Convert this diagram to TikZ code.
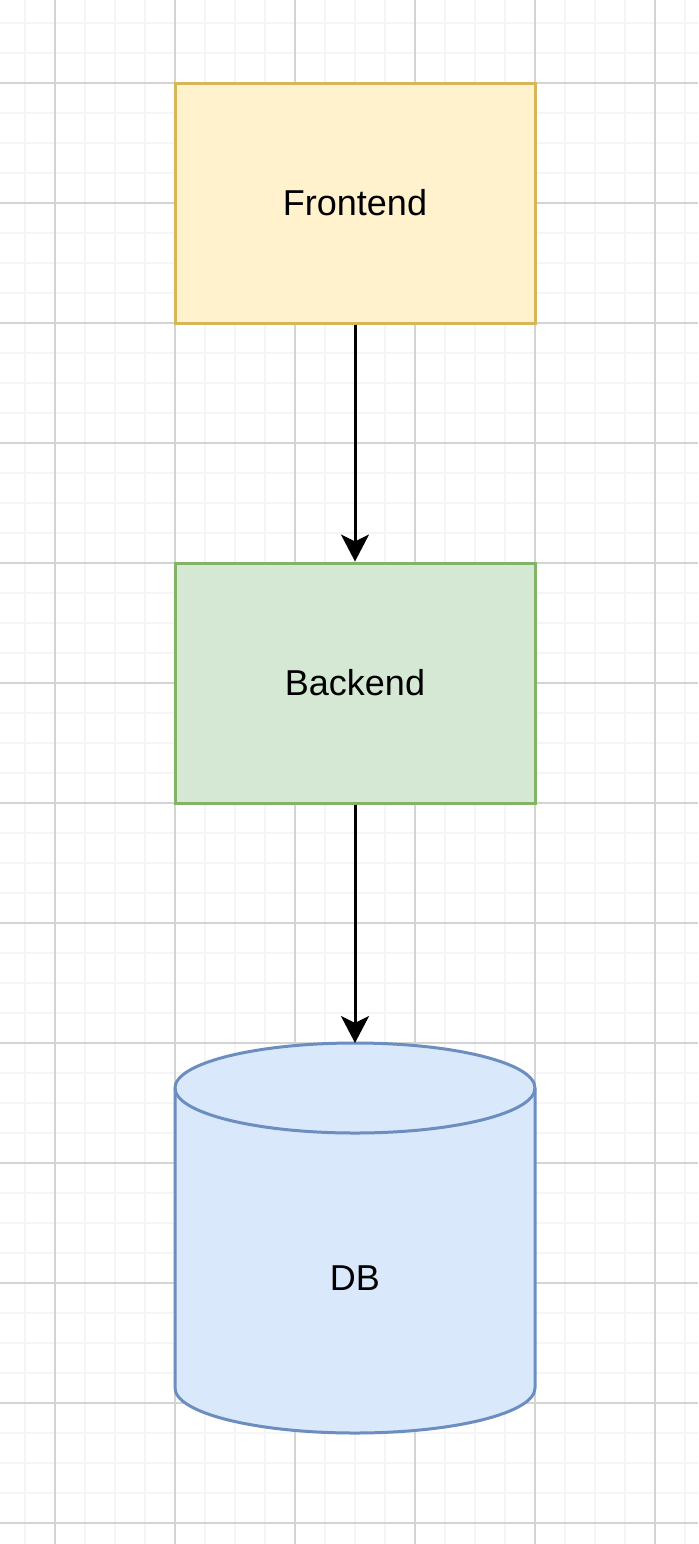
\documentclass[tikz,border=0pt]{standalone}
\usepackage{fontspec}
\setmainfont{Liberation Sans}
\usepackage{tikz}
\usetikzlibrary{arrows.meta,positioning,calc}
\definecolor{frontfill}{HTML}{FFF2CC}
\definecolor{frontline}{HTML}{D6B656}
\definecolor{backfill}{HTML}{D5E8D4}
\definecolor{backline}{HTML}{82B366}
\definecolor{dbfill}{HTML}{DAE8FC}
\definecolor{dbline}{HTML}{6C8EBF}
\tikzset{
    tier/.style={
        rectangle,
        line width=1.5pt,
        minimum width=180pt,
        minimum height=120pt,
        font=\fontsize{18}{22}\selectfont,
    },
    frontbox/.style={
        tier,
        draw=frontline,
        fill=frontfill,
    },
    backbox/.style={
        tier,
        draw=backline,
        fill=backfill,
    },
    dbnode/.style={
        rectangle,
        minimum width=180pt,
        minimum height=150pt,
        outer sep=0pt,
        font=\fontsize{18}{22}\selectfont,
    },
    dbcyl/.style={
        line width=1.5pt,
        draw=dbline,
        fill=dbfill,
    },
    gridminor/.style={line width=1pt, black!4},
    gridmajor/.style={line width=0.8pt, black!17},
    flow/.style={
        ->,
        line width=1.5pt,
    },
}

\begin{document}
\begin{tikzpicture}[x=0.5pt,y=-0.5pt,>={Stealth[length=13.5pt,width=14pt,inset=3.5pt]}]
    \useasboundingbox[fill=white] (0,0) rectangle (698,1544);
    % background grid
    \foreach \gx in {25,55,...,685} \draw[gridminor] (\gx,0) -- (\gx,1544);
    \foreach \gy in {23,53,...,1523} \draw[gridminor] (0,\gy) -- (698,\gy);
    \foreach \gx in {55,175,...,655} \draw[gridmajor] (\gx,0) -- (\gx,1544);
    \foreach \gy in {83,203,...,1523} \draw[gridmajor] (0,\gy) -- (698,\gy);

    \node [frontbox] (frontend) at (355,203) {Frontend};
    \node [backbox] (backend) [below=118.5pt of frontend] {Backend};
    \coordinate [below=119.25pt of backend.south] (dbtop);

    % cylinder
    \draw[dbcyl] ($(dbtop)+(-90pt,-22.5pt)$) -- ++(0,-150pt)
        arc[start angle=180, end angle=360, x radius=90pt, y radius=22.5pt]
        -- ++(0,150pt)
        arc[start angle=0, end angle=180, x radius=90pt, y radius=22.5pt] -- cycle;
    \draw[dbcyl, fill=none] ($(dbtop)+(-90pt,-22.5pt)$)
        arc[start angle=180, end angle=360, x radius=90pt, y radius=22.5pt];
    \node [dbnode] (db) [below=42.5pt of dbtop] {DB};

    \draw[flow] (frontend) -- (backend);
    \draw[flow] (backend) -- (dbtop);
\end{tikzpicture}
\end{document}
